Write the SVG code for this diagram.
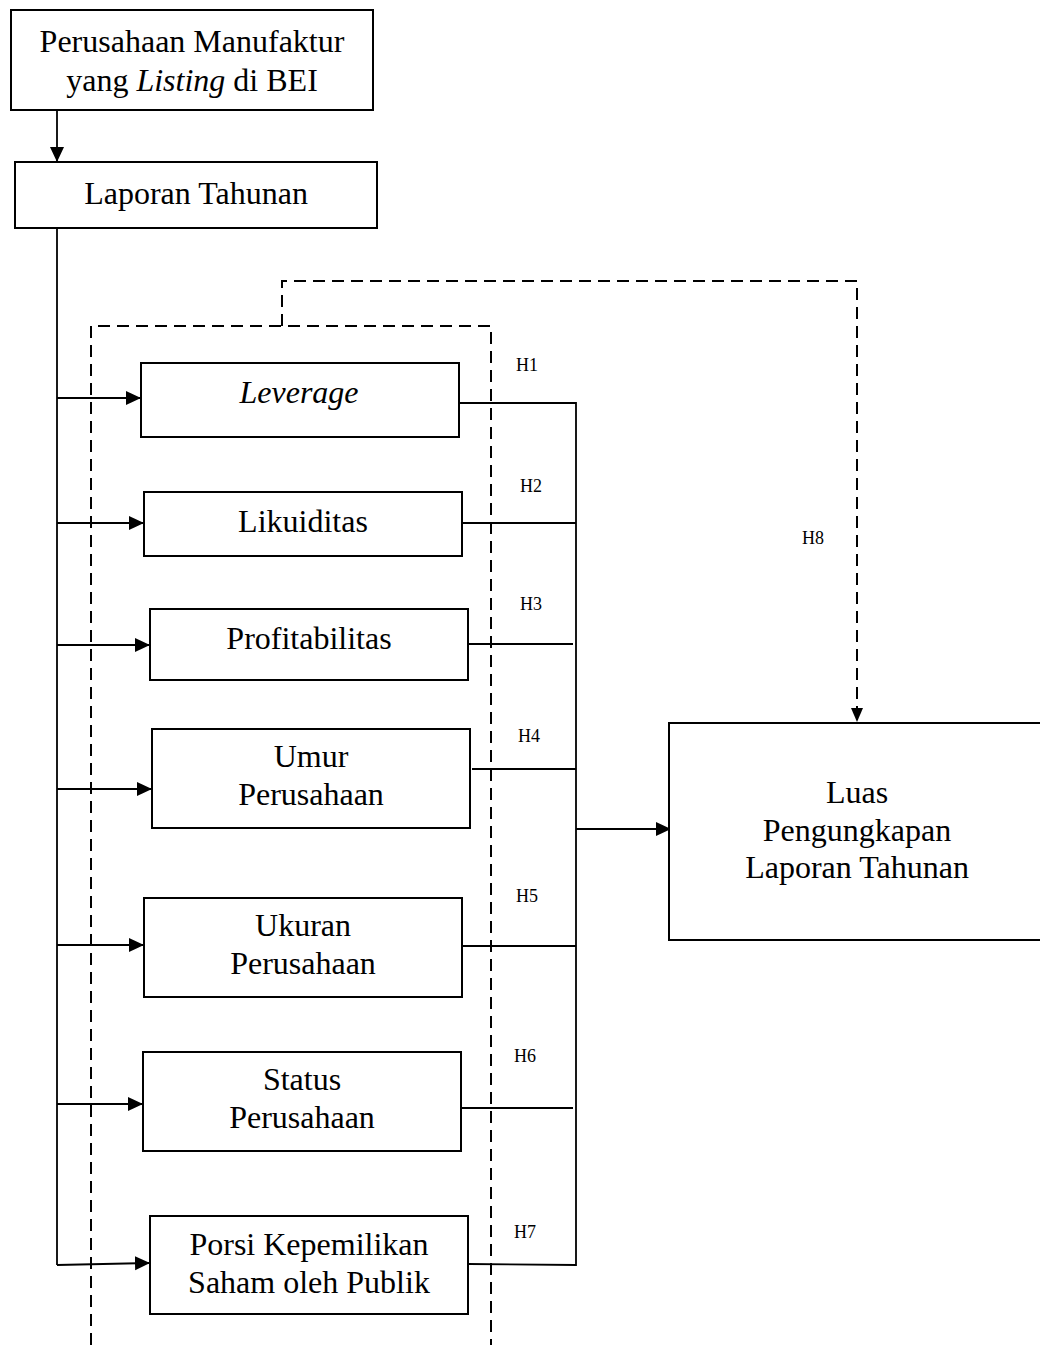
<svg xmlns="http://www.w3.org/2000/svg" width="1040" height="1345" viewBox="0 0 1040 1345">
<style>
.box{fill:#fff;stroke:#000;stroke-width:2}
.t{font-family:"Liberation Serif","Times New Roman",serif;font-size:32px;fill:#000;text-anchor:middle}
.h{font-family:"Liberation Serif","Times New Roman",serif;font-size:18px;fill:#000}
.ln{fill:none;stroke:#000;stroke-width:1.8}
.ds{fill:none;stroke:#000;stroke-width:2;stroke-dasharray:12 7}
</style>
<defs>
<marker id="ah" markerWidth="14" markerHeight="14" refX="13" refY="6" orient="auto" markerUnits="userSpaceOnUse" viewBox="0 0 14 12">
<path d="M0,0 L14,6 L0,12 z" fill="#000"/>
</marker>
<marker id="ahb" markerWidth="15" markerHeight="15" refX="14" refY="7" orient="auto" markerUnits="userSpaceOnUse" viewBox="0 0 15 14">
<path d="M0,0 L15,7 L0,14 z" fill="#000"/>
</marker>
</defs>
<g id="connectors">
<line class="ln" x1="57" y1="110" x2="57" y2="161" marker-end="url(#ahb)"/>
<line class="ln" x1="57" y1="228" x2="57" y2="1265"/>
<line class="ln" x1="57" y1="398" x2="140" y2="398" marker-end="url(#ahb)"/>
<line class="ln" x1="57" y1="523" x2="143" y2="523" marker-end="url(#ahb)"/>
<line class="ln" x1="57" y1="645" x2="149" y2="645" marker-end="url(#ahb)"/>
<line class="ln" x1="57" y1="789" x2="151" y2="789" marker-end="url(#ahb)"/>
<line class="ln" x1="57" y1="945" x2="143" y2="945" marker-end="url(#ahb)"/>
<line class="ln" x1="57" y1="1104" x2="142" y2="1104" marker-end="url(#ahb)"/>
<line class="ln" x1="57" y1="1265" x2="149" y2="1263" marker-end="url(#ahb)"/>
<polyline class="ln" points="459,403 576,403 576,1265 468,1264"/>
<line class="ln" x1="462" y1="523" x2="576" y2="523"/>
<line class="ln" x1="468" y1="644" x2="573" y2="644"/>
<line class="ln" x1="472" y1="769" x2="576" y2="769"/>
<line class="ln" x1="462" y1="946" x2="576" y2="946"/>
<line class="ln" x1="461" y1="1108" x2="573" y2="1108"/>
<line class="ln" x1="576" y1="829" x2="670" y2="829" marker-end="url(#ahb)"/>
<polyline class="ds" points="91,1345 91,326 491,326 491,1345"/>
<polyline class="ds" points="282,326 282,281 857,281 857,721" marker-end="url(#ah)"/>
</g>
<g id="n-perusahaan">
<rect class="box" x="11" y="10" width="362" height="100"/>
<text class="t" x="192" y="52">Perusahaan Manufaktur</text>
<text class="t" x="192" y="91">yang <tspan font-style="italic">Listing</tspan> di BEI</text>
</g>
<g id="n-laporan">
<rect class="box" x="15" y="162" width="362" height="66"/>
<text class="t" x="196" y="204">Laporan Tahunan</text>
</g>
<g id="n-leverage">
<rect class="box" x="141" y="363" width="318" height="74"/>
<text class="t" x="299" y="403" font-style="italic">Leverage</text>
</g>
<g id="n-likuiditas">
<rect class="box" x="144" y="492" width="318" height="64"/>
<text class="t" x="303" y="532">Likuiditas</text>
</g>
<g id="n-profitabilitas">
<rect class="box" x="150" y="609" width="318" height="71"/>
<text class="t" x="309" y="649">Profitabilitas</text>
</g>
<g id="n-umur">
<rect class="box" x="152" y="729" width="318" height="99"/>
<text class="t" x="311" y="767">Umur</text>
<text class="t" x="311" y="805">Perusahaan</text>
</g>
<g id="n-ukuran">
<rect class="box" x="144" y="898" width="318" height="99"/>
<text class="t" x="303" y="936">Ukuran</text>
<text class="t" x="303" y="974">Perusahaan</text>
</g>
<g id="n-status">
<rect class="box" x="143" y="1052" width="318" height="99"/>
<text class="t" x="302" y="1090">Status</text>
<text class="t" x="302" y="1128">Perusahaan</text>
</g>
<g id="n-porsi">
<rect class="box" x="150" y="1216" width="318" height="98"/>
<text class="t" x="309" y="1255">Porsi Kepemilikan</text>
<text class="t" x="309" y="1293">Saham oleh Publik</text>
</g>
<g id="n-luas">
<rect class="box" x="669" y="723" width="380" height="217"/>
<text class="t" x="857" y="803">Luas</text>
<text class="t" x="857" y="841">Pengungkapan</text>
<text class="t" x="857" y="878">Laporan Tahunan</text>
</g>
<g id="labels">
<text class="h" x="516" y="371">H1</text>
<text class="h" x="520" y="492">H2</text>
<text class="h" x="520" y="610">H3</text>
<text class="h" x="518" y="742">H4</text>
<text class="h" x="516" y="902">H5</text>
<text class="h" x="514" y="1062">H6</text>
<text class="h" x="514" y="1238">H7</text>
<text class="h" x="802" y="544" font-size="19">H8</text>
</g>
</svg>
